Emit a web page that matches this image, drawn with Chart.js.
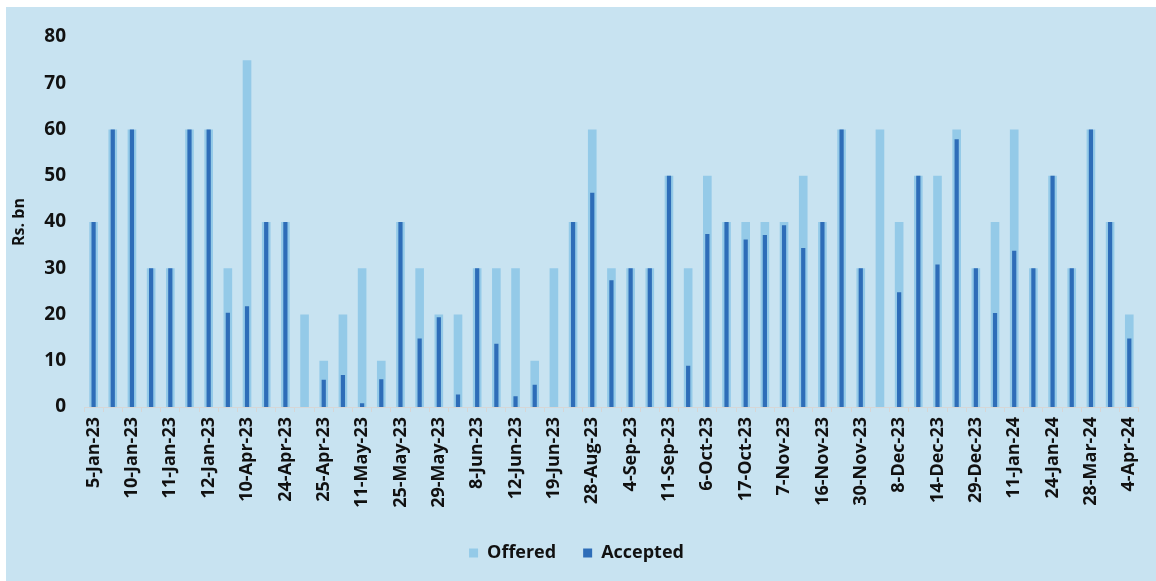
<!DOCTYPE html>
<html>
<head>
<meta charset="utf-8">
<script src="https://cdn.jsdelivr.net/npm/chart.js@4/dist/chart.umd.min.js"></script>
<style>
  html, body { margin: 0; padding: 0; background: #ffffff; }
  #wrap {
    position: absolute; left: 6px; top: 7px;
    width: 1150px; height: 574px;
    background: #C8E3F1;
  }
  canvas { display: block; }
</style>
</head>
<body>
<div id="wrap"><canvas id="chart" width="1150" height="574"></canvas></div>
<script>
// Auction dates (several issues can share one auction day)
const categories = [
  '5-Jan-23', '10-Jan-23', '10-Jan-23', '10-Jan-23', '11-Jan-23', '11-Jan-23', '12-Jan-23',
  '10-Apr-23', '10-Apr-23', '24-Apr-23', '24-Apr-23', '25-Apr-23', '25-Apr-23',
  '11-May-23', '11-May-23', '25-May-23', '25-May-23', '29-May-23', '29-May-23',
  '8-Jun-23', '8-Jun-23', '12-Jun-23', '12-Jun-23', '19-Jun-23', '19-Jun-23',
  '28-Aug-23', '28-Aug-23', '4-Sep-23', '4-Sep-23', '11-Sep-23', '11-Sep-23',
  '6-Oct-23', '6-Oct-23', '17-Oct-23', '17-Oct-23', '7-Nov-23', '7-Nov-23',
  '16-Nov-23', '16-Nov-23', '30-Nov-23', '30-Nov-23', '8-Dec-23', '8-Dec-23',
  '14-Dec-23', '14-Dec-23', '29-Dec-23', '29-Dec-23', '11-Jan-24', '11-Jan-24',
  '24-Jan-24', '24-Jan-24', '28-Mar-24', '28-Mar-24', '4-Apr-24', '4-Apr-24'
];

// Amount offered at each auction, Rs. bn
const offered = [
  40, 60, 60, 30, 30, 60, 60, 30, 75, 40,
  40, 20, 10, 20, 30, 10, 40, 30, 20, 20,
  30, 30, 30, 10, 30, 40, 60, 30, 30, 30,
  50, 30, 50, 40, 40, 40, 40, 50, 40, 60,
  30, 60, 40, 50, 50, 60, 30, 40, 60, 30,
  50, 30, 60, 40, 20
];

// Amount accepted at each auction, Rs. bn
const accepted = [
  40, 60, 60, 30, 30, 60, 60, 20.4, 21.8, 40,
  40, 0, 5.9, 6.9, 0.8, 6, 40, 14.8, 19.4, 2.7,
  30, 13.7, 2.3, 4.8, 0, 40, 46.3, 27.4, 30, 30,
  50, 8.9, 37.4, 40, 36.2, 37.2, 39.3, 34.4, 40, 60,
  30, 0, 24.8, 50, 30.8, 57.9, 30, 20.3, 33.8, 30,
  50, 30, 60, 40, 14.8
];

// Y axis ticks
const yTicks = [0, 10, 20, 30, 40, 50, 60, 70, 80];

const FONT = '"Open Sans", Lato, sans-serif';
const INK = '#111111';

new Chart(document.getElementById('chart'), {
  type: 'bar',
  data: {
    labels: categories,
    datasets: [
      {
        label: 'Offered',
        data: offered,
        backgroundColor: '#94CAE8',
        borderWidth: 0,
        grouped: false,
        categoryPercentage: 1,
        barPercentage: 0.45,
        order: 2
      },
      {
        label: 'Accepted',
        data: accepted,
        backgroundColor: '#2E6DB8',
        borderWidth: 0,
        grouped: false,
        categoryPercentage: 1,
        barPercentage: 0.22,
        order: 1
      }
    ]
  },
  options: {
    responsive: false,
    animation: false,
    events: [],
    layout: { padding: { left: 4, right: 13, top: 30, bottom: 9 } },
    plugins: {
      tooltip: { enabled: false },
      legend: {
        position: 'bottom',
        labels: {
          boxWidth: 9,
          boxHeight: 9,
          padding: 27,
          color: INK,
          font: { family: FONT, size: 18, weight: 'bold' },
          sort: (a, b) => a.datasetIndex - b.datasetIndex
        }
      }
    },
    scales: {
      x: {
        grid: {
          display: true,
          drawOnChartArea: false,
          drawTicks: true,
          tickLength: 5,
          color: '#D6D6D6',
          offset: true
        },
        border: { display: true, color: '#D6D6D6', width: 1 },
        ticks: {
          autoSkip: false,
          minRotation: 90,
          maxRotation: 90,
          padding: 5,
          color: INK,
          font: { family: FONT, size: 18, weight: 'bold' },
          callback: (v, i) => (i % 2 === 0 ? categories[i] : '')
        },
        afterFit: (scale) => { scale.height = 110; }
      },
      y: {
        min: yTicks[0],
        max: yTicks[yTicks.length - 1],
        afterBuildTicks: (scale) => { scale.ticks = yTicks.map(v => ({ value: v })); },
        grid: { display: false, drawTicks: false },
        border: { display: false },
        ticks: {
          padding: 18,
          color: INK,
          font: { family: FONT, size: 19, weight: 'bold' }
        },
        title: {
          display: true,
          text: 'Rs. bn',
          color: INK,
          padding: { top: 0, bottom: 0 },
          font: { family: FONT, size: 16, weight: 'bold' }
        },
        afterFit: (scale) => { scale.width = 74; }
      }
    }
  }
});
</script>
</body>
</html>
